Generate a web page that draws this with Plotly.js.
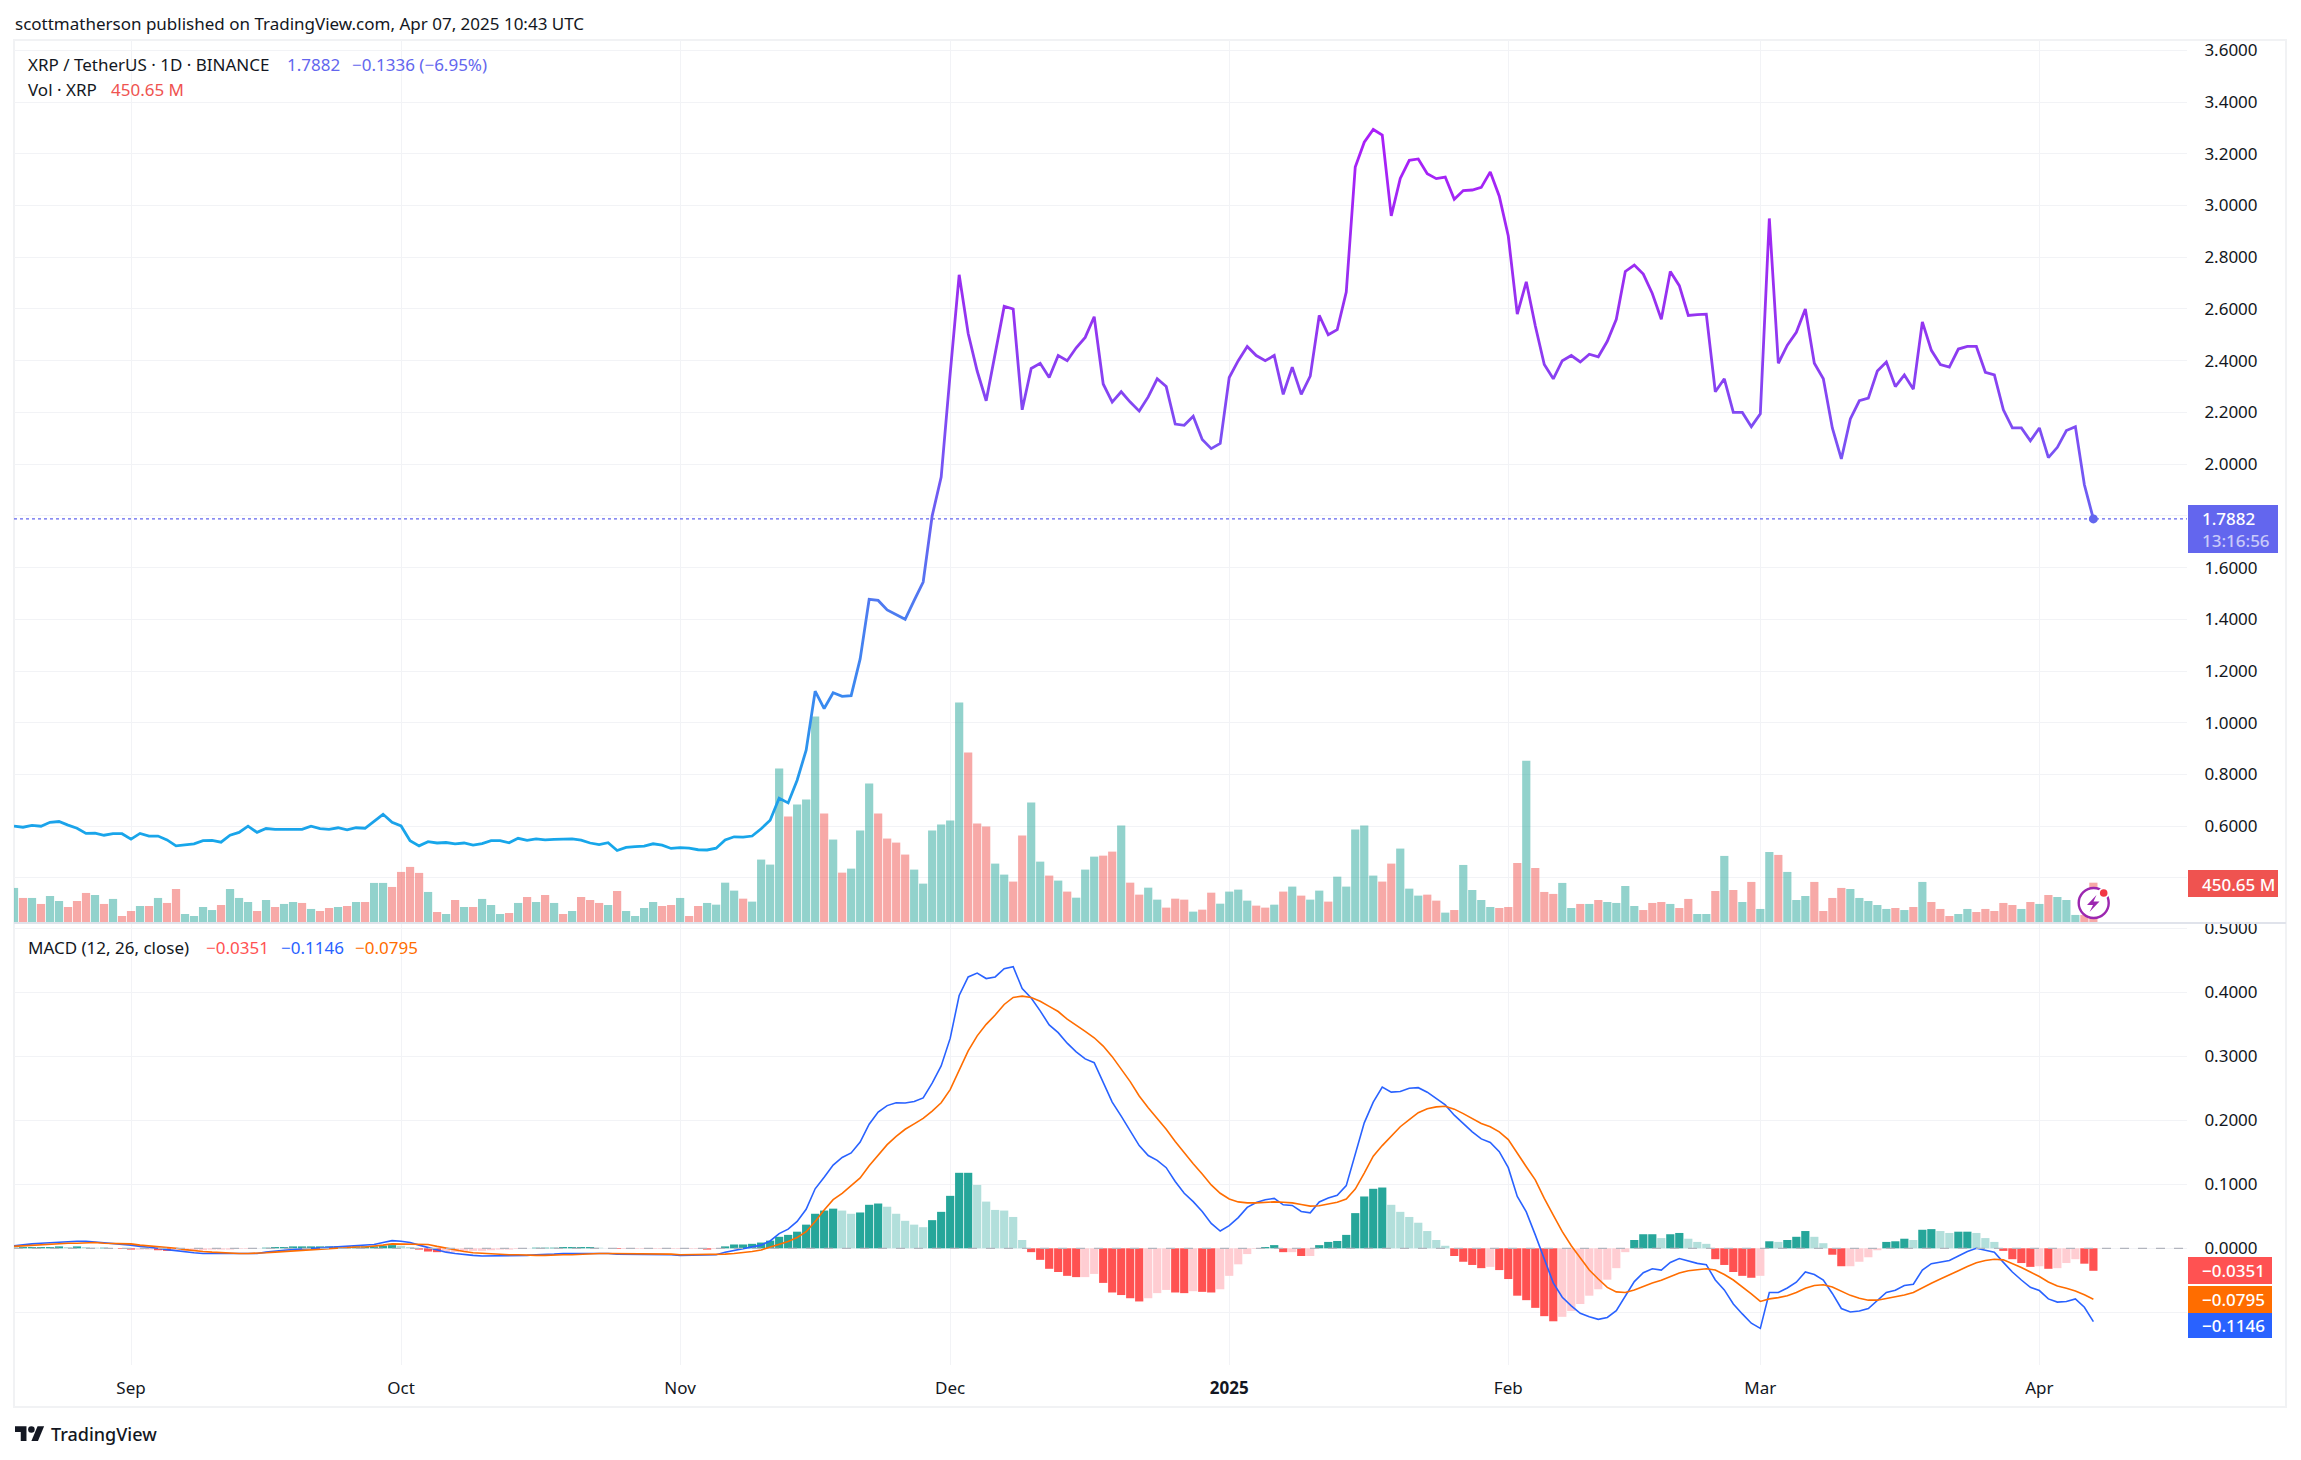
<!DOCTYPE html>
<html><head><meta charset="utf-8">
<script src="https://cdn.plot.ly/plotly-3.0.1.min.js"></script>
<style>html,body{margin:0;padding:0;background:#fff}#c{width:2301px;height:1460px}</style>
</head><body><div id="c"></div>
<script>
const startDate = '2024-08-19';
const monthTickDates = ['2024-09-01','2024-10-01','2024-11-01','2024-12-01','2025-01-01','2025-02-01','2025-03-01','2025-04-01'];
const monthTickLabels = ['Sep','Oct','Nov','Dec','<b>2025</b>','Feb','Mar','Apr'];
const priceTicks = [0.4,0.6,0.8,1.0,1.2,1.4,1.6,1.8,2.0,2.2,2.4,2.6,2.8,3.0,3.2,3.4,3.6];
const priceTickLabels = ['','0.6000','0.8000','1.0000','1.2000','1.4000','1.6000','','2.0000','2.2000','2.4000','2.6000','2.8000','3.0000','3.2000','3.4000','3.6000'];
const macdTicks = [-0.1,0,0.1,0.2,0.3,0.4,0.5];
const macdTickLabels = ['','0.0000','0.1000','0.2000','0.3000','0.4000','0.5000'];

const close = [
.600,.596,.603,.600,.615,.618,.604,.592,.572,.573,
.565,.571,.571,.550,.572,.562,.562,.547,.524,.527,
.532,.544,.545,.538,.565,.576,.600,.576,.591,.588,
.588,.590,.588,.600,.591,.588,.594,.586,.594,.592,
.620,.646,.615,.601,.544,.524,.540,.535,.537,.532,
.535,.527,.533,.544,.544,.536,.553,.545,.551,.547,
.549,.549,.551,.546,.535,.529,.536,.506,.518,.521,
.523,.532,.527,.514,.517,.515,.509,.508,.515,.547,
.559,.558,.562,.590,.623,.708,.690,.778,.894,1.122,
1.055,1.116,1.102,1.105,1.247,1.477,1.473,1.436,1.419,1.400,
1.473,1.544,1.800,1.950,2.350,2.732,2.505,2.360,2.245,2.430,
2.610,2.600,2.210,2.370,2.390,2.335,2.420,2.400,2.450,2.490,
2.570,2.310,2.240,2.280,2.240,2.205,2.260,2.330,2.300,2.155,
2.150,2.185,2.095,2.060,2.080,2.335,2.400,2.455,2.420,2.400,
2.420,2.270,2.375,2.270,2.340,2.575,2.500,2.520,2.665,3.149,
3.245,3.294,3.272,2.960,3.105,3.175,3.180,3.123,3.104,3.110,
3.024,3.058,3.060,3.070,3.130,3.036,2.882,2.580,2.705,2.535,
2.385,2.330,2.400,2.420,2.395,2.425,2.415,2.475,2.560,2.745,
2.770,2.735,2.660,2.560,2.745,2.690,2.575,2.578,2.580,2.280,
2.330,2.200,2.200,2.145,2.195,2.950,2.390,2.460,2.510,2.600,
2.390,2.330,2.140,2.020,2.175,2.245,2.255,2.360,2.395,2.300,
2.345,2.290,2.550,2.440,2.385,2.375,2.445,2.455,2.455,2.355,
2.345,2.210,2.140,2.140,2.090,2.140,2.025,2.065,2.130,2.145,
1.920,1.7882];

const volumeM = [
392,280,280,213,302,246,179,246,336,313,
213,269,78,134,190,190,280,224,380,101,
78,179,145,201,380,280,235,134,257,179,
213,235,224,157,134,168,179,190,235,235,
448,448,403,571,627,560,347,123,101,257,
179,179,269,201,101,112,224,291,235,313,
224,101,134,291,257,224,201,358,134,78,
168,235,190,201,280,78,190,224,205,451,
362,272,239,709,653,1727,1190,1324,1380,2309,
1223,933,563,608,1033,1559,1223,944,899,765,
597,440,1033,1100,1145,2466,1906,1112,1078,664,
541,463,977,1347,686,530,474,351,283,597,
742,753,798,1089,451,317,395,261,172,272,
261,127,149,339,216,351,373,250,194,172,
205,351,407,306,261,362,239,518,407,1044,
1089,530,463,664,832,384,306,317,250,116,
145,649,369,257,179,168,179,671,1813,615,
347,325,448,168,213,213,257,235,224,414,
190,145,224,235,213,168,269,101,101,358,
750,369,235,459,157,794,761,571,257,302,
459,134,280,392,380,280,246,201,157,168,
145,179,459,235,157,78,101,157,123,157,
134,224,201,157,235,213,313,291,257,90,
90,450.65];

const volumeUp = [
1,0,1,0,1,1,0,0,0,1,
0,1,0,0,1,0,1,0,0,1,
1,1,1,0,1,1,1,0,1,0,
1,1,0,1,0,0,1,0,1,0,
1,1,0,0,0,0,1,0,1,0,
1,0,1,1,1,0,1,0,1,0,
1,0,1,0,0,0,1,0,1,1,
1,1,0,0,1,0,0,1,1,1,
1,0,1,1,1,1,0,1,1,1,
0,1,0,1,1,1,0,0,0,0,
1,1,1,1,1,1,0,0,0,1,
1,0,0,1,1,0,1,0,1,1,
1,0,0,1,0,0,1,1,0,0,
0,1,0,0,1,1,1,1,0,0,
1,0,1,0,1,1,0,1,1,1,
1,1,0,0,1,1,1,0,0,1,
0,1,1,1,1,0,0,0,1,0,
0,0,1,1,0,1,0,1,1,1,
1,0,0,0,1,0,0,1,1,0,
1,0,1,0,1,1,0,1,1,1,
0,0,0,0,1,1,1,1,1,0,
1,0,1,0,0,0,1,1,0,0,
0,0,0,1,0,1,0,1,1,1,
0,0];

const macdLine = [
.004,.006,.007,.008,.009,.010,.010,.011,.011,.010,
.009,.008,.006,.005,.003,.002,.000,-.002,-.004,-.006,
-.007,-.008,-.008,-.009,-.009,-.009,-.009,-.008,-.006,-.004,
-.003,-.002,-.001,.000,.001,.002,.003,.004,.005,.005,
.006,.009,.012,.011,.009,.005,.001,-.003,-.006,-.008,
-.010,-.011,-.012,-.012,-.012,-.012,-.011,-.011,-.010,-.010,
-.009,-.008,-.008,-.007,-.007,-.007,-.008,-.009,-.009,-.009,
-.009,-.009,-.010,-.010,-.011,-.011,-.0105,-.0105,-.010,-.006,
-.003,.000,.002,.005,.0115,.023,.030,.042,.061,.093,
.111,.130,.142,.149,.166,.194,.213,.223,.2275,.227,
.2295,.235,.258,.285,.328,.395,.424,.430,.4215,.424,
.437,.440,.406,.391,.371,.349,.337,.3205,.307,.296,
.290,.259,.2285,.2065,.183,.1605,.145,.1375,.126,.1045,
.086,.073,.0575,.039,.027,.0355,.048,.064,.0715,.076,
.078,.068,.067,.0575,.0555,.0725,.0785,.083,.098,.149,
.196,.2285,.252,.244,.245,.250,.251,.244,.234,.224,
.208,.195,.182,.171,.1655,.151,.126,.081,.057,.021,
-.018,-.054,-.0765,-.090,-.1015,-.107,-.111,-.108,-.0975,-.0755,
-.052,-.038,-.032,-.034,-.022,-.016,-.020,-.0235,-.0255,-.0495,
-.065,-.087,-.1025,-.117,-.125,-.069,-.069,-.062,-.053,-.037,
-.041,-.0495,-.0705,-.094,-.0995,-.098,-.094,-.081,-.069,-.0655,
-.058,-.056,-.034,-.024,-.021,-.019,-.012,-.005,.000,-.003,
-.006,-.022,-.037,-.0495,-.061,-.066,-.079,-.084,-.083,-.079,
-.092,-.1146];

const signalLine = [
.003,.004,.005,.006,.007,.007,.008,.008,.009,.009,
.008,.008,.007,.007,.005,.004,.003,.002,.000,-.002,
-.004,-.005,-.006,-.007,-.007,-.008,-.008,-.008,-.007,-.006,
-.005,-.005,-.004,-.003,-.002,-.001,.000,.001,.002,.002,
.003,.005,.007,.007,.007,.007,.006,.003,.000,-.002,
-.005,-.007,-.008,-.009,-.010,-.010,-.010,-.011,-.011,-.011,
-.010,-.010,-.010,-.009,-.009,-.008,-.008,-.008,-.008,-.008,
-.008,-.008,-.009,-.009,-.010,-.010,-.0095,-.010,-.0095,-.009,
-.008,-.007,-.005,-.0025,.002,.006,.0105,.017,.026,.042,
.060,.076,.086,.098,.110,.129,.146,.162,.175,.186,
.1945,.203,.2145,.2275,.248,.277,.3085,.332,.350,.3645,
.381,.392,.394,.392,.386,.378,.370,.358,.349,.339,
.329,.316,.2995,.280,.2605,.238,.2195,.203,.186,.167,
.149,.132,.116,.099,.086,.077,.0725,.071,.071,.072,
.0725,.072,.071,.0685,.066,.0665,.069,.072,.077,.0925,
.1175,.144,.1605,.176,.190,.201,.212,.218,.221,.222,
.2175,.2105,.203,.195,.190,.182,.170,.148,.1275,.107,
.078,.052,.026,.004,-.0156,-.034,-.048,-.061,-.068,-.069,
-.065,-.059,-.054,-.050,-.044,-.0385,-.035,-.033,-.032,-.034,
-.041,-.0495,-.060,-.071,-.083,-.079,-.077,-.074,-.069,-.0625,
-.058,-.057,-.0605,-.0665,-.0735,-.078,-.081,-.081,-.0785,-.076,
-.073,-.069,-.0615,-.0545,-.048,-.042,-.035,-.0285,-.0225,-.019,
-.017,-.018,-.0235,-.030,-.037,-.044,-.0525,-.059,-.0625,-.0665,
-.0725,-.0795];

const histogram = [
.001,.002,.002,.002,.002,.003,.002,.003,.002,.001,
.001,.000,-.001,-.002,-.002,-.002,-.003,-.004,-.004,-.004,
-.003,-.003,-.002,-.002,-.002,-.001,-.001,.000,.001,.002,
.002,.003,.003,.003,.003,.003,.003,.003,.003,.003,
.003,.004,.005,.004,.002,-.002,-.005,-.006,-.006,-.006,
-.005,-.004,-.004,-.003,-.002,-.002,-.001,.000,.001,.001,
.001,.002,.002,.002,.002,.001,.000,-.001,-.001,-.001,
-.001,-.001,-.001,-.001,-.001,-.001,-.001,-.002,-.001,.003,
.006,.006,.007,.009,.012,.018,.021,.026,.037,.054,
.059,.062,.059,.054,.056,.068,.070,.065,.054,.043,
.037,.033,.044,.057,.082,.118,.118,.099,.073,.060,
.059,.049,.013,-.006,-.018,-.032,-.037,-.043,-.045,-.045,
-.040,-.054,-.069,-.073,-.078,-.083,-.078,-.070,-.065,-.069,
-.070,-.067,-.068,-.069,-.064,-.043,-.025,-.009,-.001,.002,
.005,-.006,-.006,-.012,-.012,.005,.010,.0115,.021,.055,
.081,.093,.095,.068,.057,.049,.040,.027,.013,.004,
-.012,-.021,-.026,-.031,-.029,-.034,-.048,-.074,-.081,-.093,
-.106,-.114,-.107,-.098,-.087,-.074,-.064,-.049,-.031,-.006,
.013,.022,.022,.016,.022,.024,.015,.010,.007,-.017,
-.026,-.037,-.043,-.046,-.043,.011,.010,.013,.018,.027,
.018,.008,-.010,-.028,-.028,-.021,-.014,-.003,.010,.011,
.015,.013,.029,.030,.027,.024,.026,.026,.024,.016,
.010,-.004,-.017,-.023,-.029,-.028,-.032,-.031,-.023,-.017,
-.024,-.0351];

const N = close.length;
[volumeM,volumeUp,macdLine,signalLine,histogram].forEach(a=>{ if(a.length!==N) throw new Error('length '+a.length+' vs '+N); });

// date labels for each trading day
const dates = [];
{ const t0 = Date.parse(startDate+'T00:00:00Z');
  for(let i=0;i<N;i++) dates.push(new Date(t0+i*864e5).toISOString().slice(0,10)); }

const FONT = '"Noto Sans", sans-serif';
const W=2301,H=1460, L=14,R=2187,T=40,B=1365, SEP=923;
const PX = x=>(x-L)/(R-L), PY = y=>(B-y)/(B-T);
const GRID = '#f2f3f6', TEXT='#131722';

const histColor = histogram.map((h,i)=>{
  const rising = i===0 || h>=histogram[i-1];
  if(h>=0) return rising ? '#26a69a' : '#b2dfdb';
  return rising ? '#ffcdd2' : '#ff5252';
});

const data = [
 {type:'bar',x:dates,y:volumeM,xaxis:'x',yaxis:'y',hoverinfo:'skip',
  marker:{color:volumeUp.map(u=>u?'rgba(38,166,154,0.5)':'rgba(239,83,80,0.5)'),line:{width:0}}},
 {type:'scatter',mode:'lines',name:'close',x:dates,y:close,xaxis:'x',yaxis:'y2',hoverinfo:'skip',
  line:{color:'#7755f4',width:2.8,shape:'linear'}},
 {type:'scatter',mode:'markers',name:'last',x:[dates[N-1]],y:[close[N-1]],xaxis:'x',yaxis:'y2',hoverinfo:'skip',
  marker:{color:'#6366ee',size:9,line:{width:0}}},
 {type:'bar',x:dates,y:histogram,xaxis:'x',yaxis:'y3',hoverinfo:'skip',
  marker:{color:histColor,line:{width:0}}},
 {type:'scatter',mode:'lines',x:dates,y:macdLine,xaxis:'x',yaxis:'y3',hoverinfo:'skip',line:{color:'#2962ff',width:1.6}},
 {type:'scatter',mode:'lines',x:dates,y:signalLine,xaxis:'x',yaxis:'y3',hoverinfo:'skip',line:{color:'#ff6d00',width:1.6}}
];

function txt(x,y,text,color,size,opts){
  return Object.assign({xref:'paper',yref:'paper',x:PX(x),y:PY(y),text,showarrow:false,xanchor:'left',yanchor:'middle',
    borderpad:0,font:{family:FONT,size:size||16,color:color||TEXT}},opts||{});
}
function flag(x,y,text,color){
  return txt(x,y,text,color,17,{font:{family:FONT,size:17,color:color,weight:500}});
}
function box(x0,x1,y0,y1,c){
  return {type:'rect',xref:'paper',yref:'paper',x0:PX(x0),x1:PX(x1),y0:PY(y1),y1:PY(y0),fillcolor:c,line:{width:0},layer:'above'};
}
function pathOf(cmds){ // list of [cmd,x,y] in page pixels
  return cmds.map(c=>c.length===1?c[0]:c[0]+PX(c[1])+','+PY(c[2])).join(' ');
}
function pline(x0,y0,x1,y1,c,w,dash){
  return {type:'line',xref:'paper',yref:'paper',x0:PX(x0),x1:PX(x1),y0:PY(y0),y1:PY(y1),line:{color:c,width:w,dash:dash||'solid'},layer:'above'};
}
function circle(cx,cy,r,fill,lineColor,lw){
  return {type:'circle',xref:'paper',yref:'paper',x0:PX(cx-r),x1:PX(cx+r),y0:PY(cy+r),y1:PY(cy-r),fillcolor:fill,line:{color:lineColor||fill,width:lw||0},layer:'above'};
}
const lg = 0.82, lx = 15, ly = 1423;
const LP = (x,y)=>[lx+x*lg, ly+y*lg];
const logo1 = [['M',...LP(14,22)],['L',...LP(7,22)],['L',...LP(7,11)],['L',...LP(0,11)],['L',...LP(0,4)],['L',...LP(14,4)],['Z']];
const logo2 = [['M',...LP(28,22)],['L',...LP(20,22)],['L',...LP(27.5,4)],['L',...LP(35.5,4)],['Z']];
const bolt = [['M',2096.5,895],['L',2087,905],['L',2093,905],['L',2089.5,912],['L',2099.5,901.5],['L',2093.5,901.5],['Z']];

const shapes = [
 // outer frame and pane separator
 {type:'rect',xref:'paper',yref:'paper',x0:PX(14),x1:PX(2286),y0:PY(1407),y1:PY(40),line:{color:'#f1f2f4',width:2},layer:'below'},
 pline(14,SEP,2286,SEP,'#e0e3eb',2),
 // last-price dotted line, MACD zero line
 {type:'line',xref:'paper',yref:'y2',x0:0,x1:1,y0:close[N-1],y1:close[N-1],line:{color:'#6366ee',width:1.3,dash:'dot'},layer:'above'},
 {type:'line',xref:'paper',yref:'y3',x0:0,x1:1,y0:0,y1:0,line:{color:'#b2b5be',width:1.3,dash:'dash'},layer:'above'},
 // right price-scale flags
 box(2188,2278,505,553,'#6366ee'),
 box(2188,2278,870,897,'#ef5350'),
 box(2188,2272,1257,1284,'#ff5252'),
 box(2188,2272,1286,1313,'#ff6d00'),
 box(2188,2272,1313,1338,'#2962ff'),
 // stopwatch icon
 circle(2093.7,903,15,'#ffffff','#9c27b0',2.4),
 {type:'path',xref:'paper',yref:'paper',path:pathOf(bolt),fillcolor:'#9c27b0',line:{width:0},layer:'above'},
 circle(2103.7,893,5.5,'#ffffff'),
 circle(2103.7,893,3.8,'#f23645'),
 // TradingView logo
 {type:'path',xref:'paper',yref:'paper',path:pathOf(logo1),fillcolor:'#131722',line:{width:0},layer:'above'},
 {type:'path',xref:'paper',yref:'paper',path:pathOf(logo2),fillcolor:'#131722',line:{width:0},layer:'above'},
 circle(lx+20*lg,ly+8*lg,4*lg,'#131722')
];

const annotations = [
 txt(14,23,'scottmatherson published on TradingView.com, Apr 07, 2025 10:43 UTC',TEXT,17),
 txt(27,64,'XRP / TetherUS · 1D · BINANCE',TEXT,17),
 txt(286,64,'1.7882',"#6366ee",17),
 txt(351,64,'−0.1336 (−6.95%)',"#6366ee",17),
 txt(27,90,'Vol · XRP',TEXT,17),
 txt(110,90,'450.65 M',"#ef5350",17),
 txt(27,947,'MACD (12, 26, close)',TEXT,17),
 txt(205,947,'−0.0351','#ff5252',17),
 txt(280,947,'−0.1146','#2962ff',17),
 txt(354,947,'−0.0795','#ff6d00',17),
 flag(2201,518,'1.7882','#ffffff'),
 flag(2201,540,'13:16:56','#c9caf9'),
 flag(2201,884,'450.65 M','#ffffff'),
 flag(2201,1270.5,'−0.0351','#ffffff'),
 flag(2201,1299.5,'−0.0795','#ffffff'),
 flag(2201,1325.5,'−0.1146','#ffffff'),
 txt(50,1434,'TradingView',TEXT,18,{font:{family:FONT,size:18,color:TEXT,weight:500}})
];

const yTick = {family:FONT,size:17,color:TEXT};
const layout = {
 width:W,height:H,margin:{l:L,r:W-R,t:T,b:H-B,pad:0,autoexpand:false},
 paper_bgcolor:'#ffffff',plot_bgcolor:'#ffffff',showlegend:false,barmode:'overlay',bargap:0.09,
 xaxis:{type:'date',anchor:'y3',range:['2024-08-19 00:00','2025-04-17 09:36'],showgrid:true,gridcolor:GRID,gridwidth:1,zeroline:false,showline:false,
   tickmode:'array',tickvals:monthTickDates,ticktext:monthTickLabels,ticks:'outside',ticklen:8,tickcolor:'rgba(0,0,0,0)',tickfont:yTick,automargin:false},
 yaxis:{domain:[PY(SEP),1],range:[0,9872],showgrid:false,zeroline:false,showticklabels:false,showline:false,fixedrange:true,automargin:false},
 yaxis2:{overlaying:'y',side:'right',range:[0.2257,3.640],tickmode:'array',tickvals:priceTicks,ticktext:priceTickLabels,
   showgrid:true,gridcolor:GRID,gridwidth:1,zeroline:false,showline:false,ticks:'outside',ticklen:13,tickcolor:'rgba(0,0,0,0)',tickfont:yTick,automargin:false},
 yaxis3:{domain:[0,PY(SEP)],side:'right',anchor:'x',range:[-0.1823,0.5083],tickmode:'array',tickvals:macdTicks,ticktext:macdTickLabels,
   showgrid:true,gridcolor:GRID,gridwidth:1,zeroline:false,showline:false,ticks:'outside',ticklen:13,tickcolor:'rgba(0,0,0,0)',tickfont:yTick,automargin:false},
 shapes,annotations
};

Plotly.newPlot('c',data,layout,{staticPlot:true,displayModeBar:false}).then(gd=>{
  // price line runs through a vertical colour gradient, as in the TradingView area/line style
  const svg = gd.querySelector('svg.main-svg');
  const ns='http://www.w3.org/2000/svg';
  let defs = svg.querySelector('defs');
  const g = document.createElementNS(ns,'linearGradient');
  g.setAttribute('id','priceGrad'); g.setAttribute('x1','0'); g.setAttribute('y1','0'); g.setAttribute('x2','0'); g.setAttribute('y2','1');
  [[0,'#aa1ef8'],[.25,'#9632f0'],[.464,'#7755f4'],[.536,'#6a60f2'],[.68,'#4a7ef0'],[.787,'#3a88f0'],[.93,'#1f9eea'],[1,'#16a8ea']].forEach(s=>{
    const st=document.createElementNS(ns,'stop'); st.setAttribute('offset',s[0]); st.setAttribute('stop-color',s[1]); g.appendChild(st);
  });
  defs.appendChild(g);
  const paths = gd.querySelectorAll('.scatterlayer .trace path.js-line');
  paths.forEach(p=>{ if(p.style.stroke && /119,\s*85,\s*244/.test(p.style.stroke)) { p.style.stroke='url(#priceGrad)'; } });
});
</script></body></html>
